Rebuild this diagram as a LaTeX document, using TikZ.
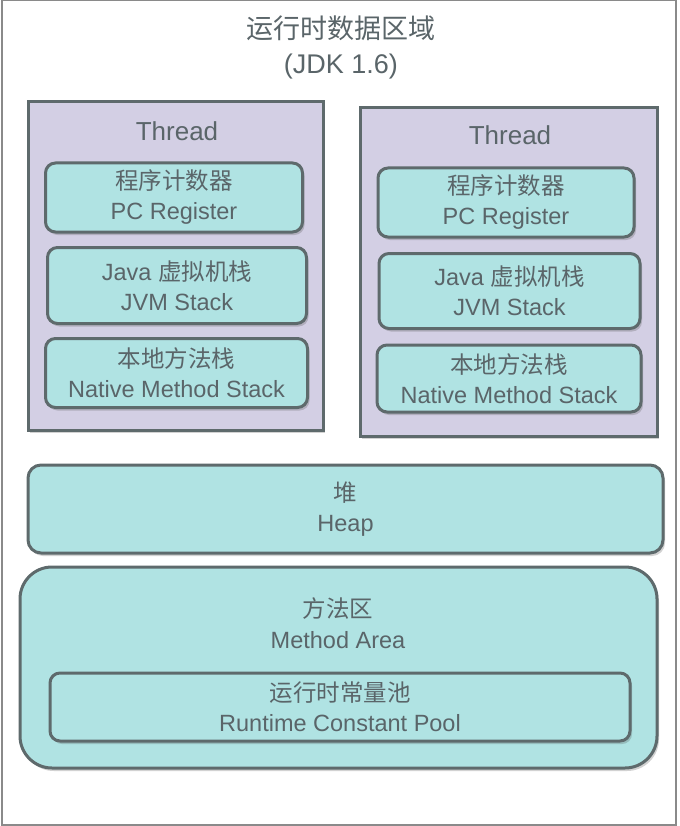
\documentclass[tikz,border=0pt]{standalone}
\usepackage{fontspec}
\setmainfont{Liberation Sans}
\newfontfamily\cjk{Noto Sans CJK SC}
\usetikzlibrary{shadows}
\definecolor{lav}{HTML}{D3CFE4}
\definecolor{teal}{HTML}{B0E3E3}
\definecolor{edge}{HTML}{5E6A6C}
\definecolor{txt}{HTML}{5A6569}
\definecolor{frame}{HTML}{8A8A8A}
\tikzset{
  shd/.style={drop shadow={opacity=0.25,shadow xshift=2pt,shadow yshift=-3pt,fill=black!70}},
  threadbox/.style={draw=edge,line width=3pt,fill=lav,shd,minimum width=295pt,minimum height=328pt,inner sep=0pt},
  inbox/.style={draw=edge,line width=3pt,fill=teal,shd,rounded corners=10pt,align=center,text=txt,
    font=\fontsize{23.5}{30}\selectfont,inner sep=0pt},
  lbl/.style={text=txt,align=center,inner sep=0pt},
}
\begin{document}
\begin{tikzpicture}[x=1pt,y=-1pt]
\useasboundingbox (0,0) rectangle (679,826);
\fill[white] (0,0) rectangle (679,826);
\draw[frame,line width=2pt] (1.5,0.5) rectangle (675.5,824.5);

\node[lbl,font=\fontsize{27}{35}\selectfont] (title) at (341,47.5) {{\cjk 运行时数据区域}\\(JDK 1.6)};

% left thread
\node[threadbox] (thL) at (175.5,266) {};
\node[lbl,font=\fontsize{26}{30}\selectfont] (thLt) at (177,131) {Thread};
\node[inbox,minimum width=257pt,minimum height=69pt] (pcL) at (174,197.5) {{\cjk 程序计数器}\\PC Register};
\node[inbox,minimum width=259pt,minimum height=76pt] (jvmL) at (177,285.5) {Java {\cjk 虚拟机栈}\\JVM Stack};
\node[inbox,minimum width=262pt,minimum height=69pt] (natL) at (176.5,373) {{\cjk 本地方法栈}\\Native Method Stack};

% right thread
\node[threadbox,minimum width=297pt] (thR) at (508.5,272) {};
\node[lbl,font=\fontsize{26}{30}\selectfont] (thRt) at (510,135) {Thread};
\node[inbox,minimum width=256pt,minimum height=69pt] (pcR) at (506,202.5) {{\cjk 程序计数器}\\PC Register};
\node[inbox,minimum width=261pt,minimum height=75pt] (jvmR) at (509.5,291) {Java {\cjk 虚拟机栈}\\JVM Stack};
\node[inbox,minimum width=264pt,minimum height=67pt] (natR) at (509,378.5) {{\cjk 本地方法栈}\\Native Method Stack};

% heap
\node[inbox,rounded corners=13pt,minimum width=635pt,minimum height=88pt] (heap) at (345.5,509) {{\cjk 堆}\\Heap};

% method area
\node[inbox,rounded corners=32pt,minimum width=637pt,minimum height=201pt] (ma) at (338.5,667.5) {};
\node[lbl,font=\fontsize{23.5}{31}\selectfont] (mat) at (338,623.5) {{\cjk 方法区}\\Method Area};
\node[inbox,minimum width=580pt,minimum height=68pt] (pool) at (340,707) {{\cjk 运行时常量池}\\Runtime Constant Pool};
\end{tikzpicture}
\end{document}
